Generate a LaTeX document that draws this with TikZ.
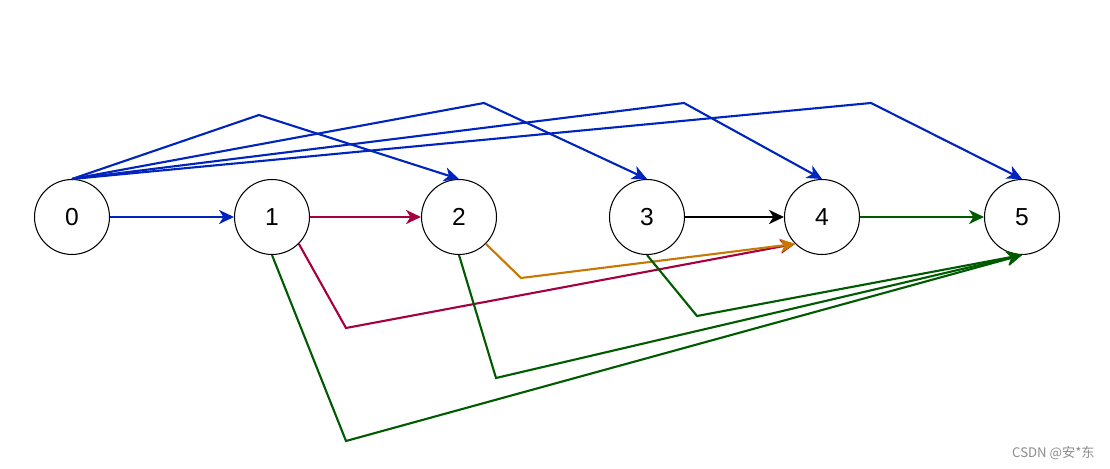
\documentclass[tikz,border=0pt]{standalone}
\usepackage{fontspec}
\setmainfont{Liberation Sans}
\newfontfamily\cjkfont{Noto Sans CJK SC}
\usepackage{tikz}
\usetikzlibrary{arrows.meta, positioning}
\definecolor{azulArco}{RGB}{0,36,190}
\definecolor{rojoArco}{RGB}{165,0,64}
\definecolor{naranjaArco}{RGB}{200,120,0}
\definecolor{verdeArco}{RGB}{0,90,0}
\tikzset{
  gr/vertex/.style={circle, draw=black, fill=white, line width=0.6pt,
    minimum size=1.5cm, inner sep=0pt, font=\fontsize{14}{16}\selectfont},
  gr/arr/.style={-{Stealth[length=8.5pt,width=8pt,inset=2.5pt]}, line width=1.2pt},
  gr/blue/.style={gr/arr, draw=azulArco},
  gr/red/.style={gr/arr, draw=rojoArco},
  gr/orange/.style={gr/arr, draw=naranjaArco},
  gr/green/.style={gr/arr, draw=verdeArco},
  gr/black/.style={gr/arr, draw=black},
  gr/mark/.style={font=\cjkfont\fontsize{7.5}{9}\selectfont, text=black!45,
    inner sep=0pt}
}

\begin{document}
\begin{tikzpicture}[x=0.02cm, y=-0.02cm]
    \useasboundingbox (0,0) rectangle (1110,469);
    \node[gr/vertex] (v0) at (72,217) {0};
    \node[gr/vertex] (v1) at (272,217) {1};
    \node[gr/vertex] (v2) at (459,217) {2};
    \node[gr/vertex] (v3) at (647,217) {3};
    \node[gr/vertex] (v4) at (822,217) {4};
    \node[gr/vertex] (v5) at (1022,217) {5};

    \draw[gr/blue] (v0) -- (v1);
    \draw[gr/blue] (v0.north) -- (259,115) -- (v2.north);
    \draw[gr/blue] (v0.north) -- (484,103) -- (v3.north);
    \draw[gr/blue] (v0.north) -- (684,103) -- (v4.north);
    \draw[gr/blue] (v0.north) -- (871,103) -- (v5.north);

    \draw[gr/red] (v1) -- (v2);
    \draw[gr/red] (v1.south east) -- (346,328) -- (v4.south west);
    \draw[gr/orange] (v2.south east) -- (521,278) -- (v4.south west);
    \draw[gr/black] (v3) -- (v4);
    \draw[gr/green] (v4) -- (v5);
    \draw[gr/green] (v1.south) -- (346,441) -- (v5.south);
    \draw[gr/green] (v2.south) -- (496,378) -- (v5.south);
    \draw[gr/green] (v3.south) -- (697,316) -- (v5.south);

    \node[gr/mark, anchor=east] (wm) at (1095,453) {CSDN @安*东};
  \end{tikzpicture}
\end{document}
